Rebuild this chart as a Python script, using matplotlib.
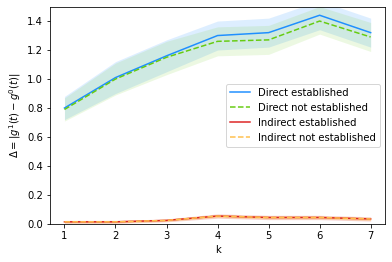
import matplotlib
matplotlib.use("Agg")
import matplotlib.pyplot as plt
import numpy as np

k = [1, 2, 3, 4, 5, 6, 7]
direct_est = [0.80, 1.01, 1.16, 1.30, 1.32, 1.44, 1.32]
direct_est_lo = [0.72, 0.90, 1.05, 1.20, 1.22, 1.34, 1.22]
direct_est_hi = [0.88, 1.12, 1.27, 1.40, 1.42, 1.54, 1.42]
direct_not = [0.79, 1.00, 1.15, 1.26, 1.27, 1.40, 1.29]
direct_not_lo = [0.71, 0.89, 1.03, 1.16, 1.17, 1.31, 1.19]
direct_not_hi = [0.87, 1.11, 1.26, 1.36, 1.37, 1.50, 1.39]
ind_est = [0.015, 0.015, 0.025, 0.055, 0.045, 0.045, 0.035]
ind_est_lo = [0.005, 0.005, 0.015, 0.040, 0.030, 0.030, 0.020]
ind_est_hi = [0.025, 0.025, 0.035, 0.070, 0.060, 0.060, 0.050]
ind_not = [0.015, 0.015, 0.025, 0.055, 0.045, 0.045, 0.035]
ind_not_lo = [0.008, 0.008, 0.018, 0.045, 0.035, 0.035, 0.025]
ind_not_hi = [0.022, 0.022, 0.032, 0.065, 0.055, 0.055, 0.045]

fig, ax = plt.subplots(figsize=(392/72, 262/72), dpi=72)
fig.subplots_adjust(left=0.128, right=0.982, top=0.975, bottom=0.145)

c_blue = '#1f8fff'
c_green = '#66cc11'
c_red = '#dd2222'
c_orange = '#ffc04c'

ax.fill_between(k, direct_est_lo, direct_est_hi, color=c_blue, alpha=0.15, lw=0)
ax.fill_between(k, direct_not_lo, direct_not_hi, color=c_green, alpha=0.12, lw=0)
ax.fill_between(k, ind_est_lo, ind_est_hi, color=c_red, alpha=0.2, lw=0)
ax.fill_between(k, ind_not_lo, ind_not_hi, color=c_orange, alpha=0.4, lw=0)

ax.plot(k, direct_est, color=c_blue, lw=1.5, label='Direct established')
ax.plot(k, direct_not, color=c_green, lw=1.5, ls='--', label='Direct not established')
ax.plot(k, ind_est, color=c_red, lw=1.5, label='Indirect established')
ax.plot(k, ind_not, color=c_orange, lw=1.5, ls='--', label='Indirect not established')

ax.set_ylim(0, 1.5)
ax.set_xlim(0.72, 7.28)
ax.set_xticks(k)
ax.set_yticks([0.0, 0.2, 0.4, 0.6, 0.8, 1.0, 1.2, 1.4])
ax.set_xlabel('k')
ax.set_ylabel(r'$\Delta = |g^1(t) - g^0(t)|$')
ax.legend(loc='center right', bbox_to_anchor=(1.0, 0.5))

fig.savefig('out.png', dpi=72)
